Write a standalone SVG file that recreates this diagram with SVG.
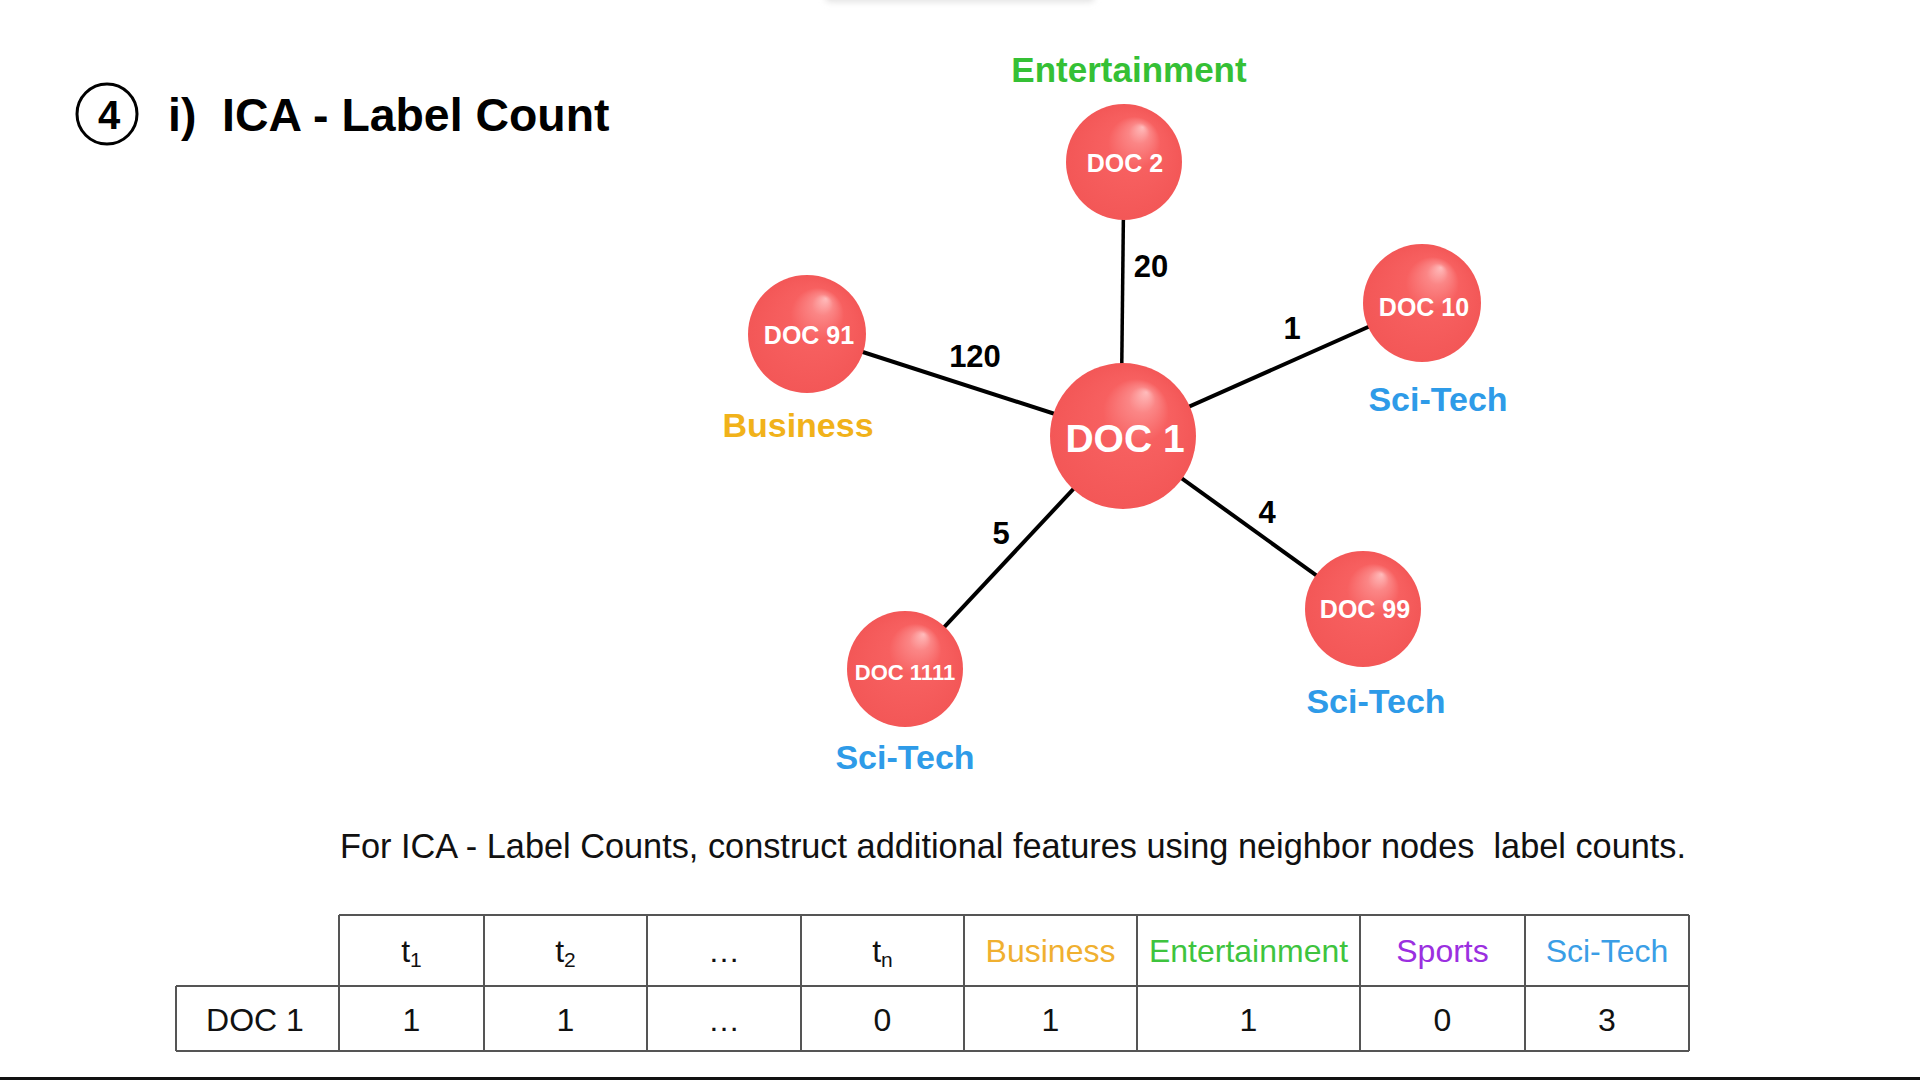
<svg xmlns="http://www.w3.org/2000/svg" width="1920" height="1080" viewBox="0 0 1920 1080">
<defs>
<radialGradient id="sphere" cx="0.5" cy="0.5" r="0.5" fx="0.66" fy="0.2">
<stop offset="0" stop-color="#ffbcbc"/>
<stop offset="0.18" stop-color="#fb8686"/>
<stop offset="0.45" stop-color="#f76060"/>
<stop offset="1" stop-color="#f35757"/>
</radialGradient>
<filter id="blur" x="-20%" y="-200%" width="140%" height="500%"><feGaussianBlur stdDeviation="3"/></filter>
<style>
.nd{fill:url(#sphere)}
.nt{font-family:"Liberation Sans",Arial,sans-serif;font-weight:bold;fill:#fff;text-anchor:middle}
.cat{font-family:"Liberation Sans",Arial,sans-serif;font-weight:bold;font-size:34px;text-anchor:middle}
.w{font-family:"Liberation Sans",Arial,sans-serif;font-weight:bold;font-size:31px;fill:#000;text-anchor:middle}
.edge{stroke:#000;stroke-width:4;stroke-linecap:butt}
.tb{stroke:#555;stroke-width:2;fill:none}
.tt{font-family:"Liberation Sans",Arial,sans-serif;font-size:32px;fill:#111;text-anchor:middle}
.biz{fill:#f1b21a}.ent{fill:#35c035}.sci{fill:#2e9be8}
</style>
</defs>
<rect width="1920" height="1080" fill="#fff"/>
<rect x="825" y="-8" width="270" height="10" rx="5" fill="#e2e2e2" filter="url(#blur)"/>
<rect x="0" y="1077" width="1920" height="3" fill="#111"/>

<g id="title">
<circle cx="107" cy="114" r="30" fill="none" stroke="#000" stroke-width="3"/>
<text x="109" y="129" font-family="Liberation Sans, Arial, sans-serif" font-weight="bold" font-size="40" text-anchor="middle">4</text>
<text x="168" y="131" font-family="Liberation Sans, Arial, sans-serif" font-weight="bold" font-size="46.4">i)</text>
<text x="222" y="131" font-family="Liberation Sans, Arial, sans-serif" font-weight="bold" font-size="46.4">ICA - Label Count</text>
</g>

<g id="connectors">
<line class="edge" x1="1124" y1="162" x2="1121" y2="436" style="stroke-width:3.5"/>
<line class="edge" x1="807" y1="334" x2="1123" y2="436"/>
<line class="edge" x1="1422" y1="303" x2="1123" y2="436"/>
<line class="edge" x1="1363" y1="609" x2="1123" y2="436"/>
<line class="edge" x1="905" y1="669" x2="1123" y2="436"/>
<text class="w" x="1151" y="277">20</text>
<text class="w" x="975" y="367">120</text>
<text class="w" x="1292" y="339">1</text>
<text class="w" x="1267" y="523">4</text>
<text class="w" x="1001" y="544">5</text>
</g>

<g id="node-doc1">
<circle class="nd" cx="1123" cy="436" r="73"/>
<text class="nt" x="1125" y="452" font-size="39">DOC 1</text>
</g>
<g id="node-doc2">
<circle class="nd" cx="1124" cy="162" r="58"/>
<text class="nt" x="1125" y="172" font-size="25">DOC 2</text>
<text class="cat ent" x="1129" y="82" style="font-size:35px">Entertainment</text>
</g>
<g id="node-doc10">
<circle class="nd" cx="1422" cy="303" r="59"/>
<text class="nt" x="1424" y="316" font-size="25">DOC 10</text>
<text class="cat sci" x="1438" y="411">Sci-Tech</text>
</g>
<g id="node-doc91">
<circle class="nd" cx="807" cy="334" r="59"/>
<text class="nt" x="809" y="344" font-size="25">DOC 91</text>
<text class="cat biz" x="798" y="437">Business</text>
</g>
<g id="node-doc99">
<circle class="nd" cx="1363" cy="609" r="58"/>
<text class="nt" x="1365" y="618" font-size="25">DOC 99</text>
<text class="cat sci" x="1376" y="713">Sci-Tech</text>
</g>
<g id="node-doc1111">
<circle class="nd" cx="905" cy="669" r="58"/>
<text class="nt" x="905" y="680" font-size="22">DOC 1111</text>
<text class="cat sci" x="905" y="769">Sci-Tech</text>
</g>

<text x="340" y="858" font-family="Liberation Sans, Arial, sans-serif" font-size="34.3" fill="#111">For ICA - Label Counts, construct additional features using neighbor nodes&#160; label counts.</text>

<g id="table">
<path class="tb" d="M339 915 H1689 M176 986 H1689 M176 1051 H1689 M176 986 V1051 M339 915 V1051 M484 915 V1051 M647 915 V1051 M801 915 V1051 M964 915 V1051 M1137 915 V1051 M1360 915 V1051 M1525 915 V1051 M1689 915 V1051"/>
<text class="tt" x="411.5" y="962">t<tspan font-size="21" dy="5">1</tspan></text>
<text class="tt" x="565.5" y="962">t<tspan font-size="21" dy="5">2</tspan></text>
<text class="tt" x="724" y="962">…</text>
<text class="tt" x="882.5" y="962">t<tspan font-size="21" dy="5">n</tspan></text>
<text class="tt" x="1050.5" y="962" style="fill:#f0b030">Business</text>
<text class="tt" x="1248.5" y="962" style="fill:#3ec43e">Entertainment</text>
<text class="tt" x="1442.5" y="962" style="fill:#9b2fe0">Sports</text>
<text class="tt" x="1607" y="962" style="fill:#3a9ee6">Sci-Tech</text>
<text class="tt" x="255" y="1031">DOC 1</text>
<text class="tt" x="411.5" y="1031">1</text>
<text class="tt" x="565.5" y="1031">1</text>
<text class="tt" x="724" y="1031">…</text>
<text class="tt" x="882.5" y="1031">0</text>
<text class="tt" x="1050.5" y="1031">1</text>
<text class="tt" x="1248.5" y="1031">1</text>
<text class="tt" x="1442.5" y="1031">0</text>
<text class="tt" x="1607" y="1031">3</text>
</g>
</svg>
